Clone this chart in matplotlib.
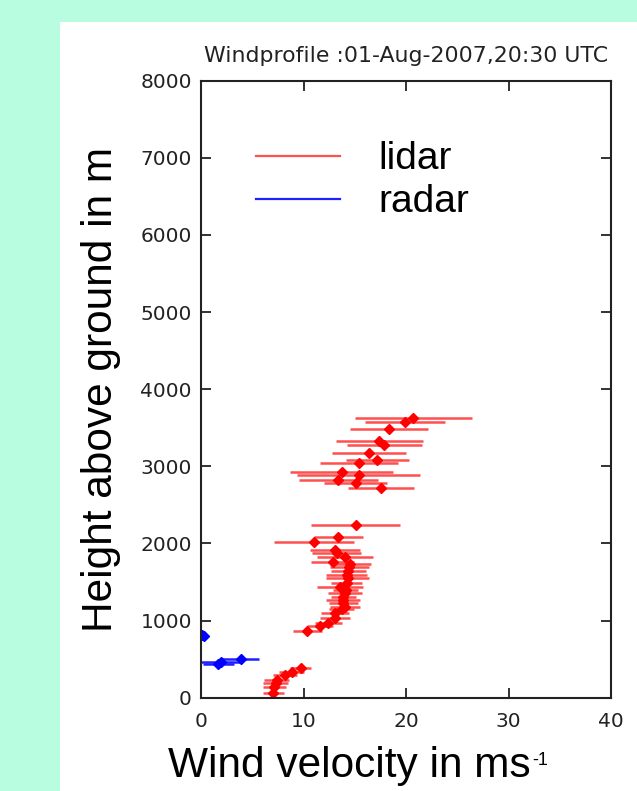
import matplotlib
matplotlib.use("Agg")
import matplotlib.pyplot as plt
from matplotlib.patches import Rectangle
from matplotlib.lines import Line2D
import numpy as np

plt.rcParams['font.family'] = ['Liberation Sans', 'DejaVu Sans']

# lidar profile: height (m), wind speed (m/s), error (m/s)
lidar_h = [65, 135, 187, 229, 294, 337, 381,
           869, 930, 972, 1030, 1094, 1150, 1180, 1232, 1265, 1302, 1354,
           1396, 1439, 1491, 1548, 1591, 1647, 1691, 1734, 1763, 1828,
           1880, 1915, 2023, 2088, 2239,
           2723, 2788, 2823, 2888, 2926, 3039, 3078, 3177, 3277, 3332,
           3484, 3579, 3630]
lidar_v = [7.05, 7.15, 7.29, 7.39, 8.20, 8.85, 9.73,
           10.37, 11.61, 12.42, 13.07, 13.07, 13.73, 14.05, 13.88, 13.85, 13.88, 14.05,
           14.12, 13.56, 14.21, 14.31, 14.21, 14.37, 14.47, 14.54, 12.85, 14.05,
           13.24, 13.07, 11.05, 13.40, 15.09,
           17.56, 15.09, 13.40, 15.41, 13.73, 15.41, 17.20, 16.39, 17.89, 17.39,
           18.31, 19.90, 20.71]
lidar_e = [1.0, 1.1, 1.2, 1.2, 1.2, 1.2, 1.0,
           1.4, 1.3, 1.3, 1.5, 1.4, 1.2, 1.5, 1.4, 1.7, 1.2, 1.7,
           1.2, 2.2, 1.5, 2.1, 2.0, 1.7, 1.9, 2.0, 2.1, 2.7,
           2.4, 2.4, 3.9, 2.4, 4.35,
           3.25, 3.1, 3.84, 6.0, 5.0, 3.77, 3.1, 3.6, 3.65, 4.26,
           3.8, 3.9, 5.7]

# radar profile
radar_h = [433, 467, 498, 800, 813]
radar_v = [1.69, 1.95, 3.87, 0.32, 0.07]
radar_e = [1.5, 1.95, 1.8, 0.2, 0.1]

fig = plt.figure(figsize=(6.37, 7.91), dpi=100)
fig.patch.set_facecolor('#b8fde0')
fig.patches.append(Rectangle((60 / 637, 0), 1, 1 - 22 / 791, transform=fig.transFigure,
                             facecolor='white', edgecolor='none', zorder=-10))

ax = fig.add_axes([201 / 637, 1 - 697.7 / 791, 410 / 637, 617 / 791])

ax.errorbar(lidar_v, lidar_h, xerr=lidar_e, fmt='D', color='red', ecolor='#ff5050',
            elinewidth=1.8, capsize=0, ms=5, label='lidar')
ax.errorbar(radar_v, radar_h, xerr=radar_e, fmt='D', color='blue', ecolor='#2020ff',
            elinewidth=1.8, capsize=0, ms=5, label='radar')

ax.set_xlim(0, 40)
ax.set_ylim(0, 8000)
ax.set_xticks([0, 10, 20, 30, 40])
ax.set_yticks(np.arange(0, 8001, 1000))
ax.tick_params(direction='in', length=7.5, width=1.3, top=True, right=True,
               labelsize=14.5, colors='#222222')
ax.tick_params(axis='x', pad=10)
ax.tick_params(axis='y', pad=6.5)
for lab in ax.get_xticklabels() + ax.get_yticklabels():
    lab.set_family('DejaVu Sans')
for s in ax.spines.values():
    s.set_linewidth(1.5)
    s.set_color('#222222')

ax.set_title('Windprofile :01-Aug-2007,20:30 UTC', fontsize=15.8, color='#222222',
             pad=13.5, family='DejaVu Sans')
ax.set_ylabel('Height above ground in m', fontsize=30.5)
ax.yaxis.set_label_coords(-0.195, 0.5)

# x label with a small superscript, placed like the original
xl = fig.text(168 / 637, 1 - 777 / 791, 'Wind velocity in ms', fontsize=30.5,
              va='baseline', ha='left')
fig.canvas.draw()
bb = xl.get_window_extent().transformed(fig.transFigure.inverted())
fig.text(bb.x1 + 2 / 637, 1 - 765 / 791, '-1', fontsize=13, va='baseline', ha='left')

handles = [Line2D([], [], color='#ff5050', lw=1.6), Line2D([], [], color='#2020ff', lw=1.6)]
ax.legend(handles, ['lidar', 'radar'], loc='upper left', bbox_to_anchor=(0.135, 0.902),
          frameon=False, fontsize=28, handlelength=2.15, handletextpad=1.0,
          labelspacing=0.18, borderpad=0, borderaxespad=0)

fig.savefig('out.png', dpi=100, facecolor=fig.get_facecolor())
